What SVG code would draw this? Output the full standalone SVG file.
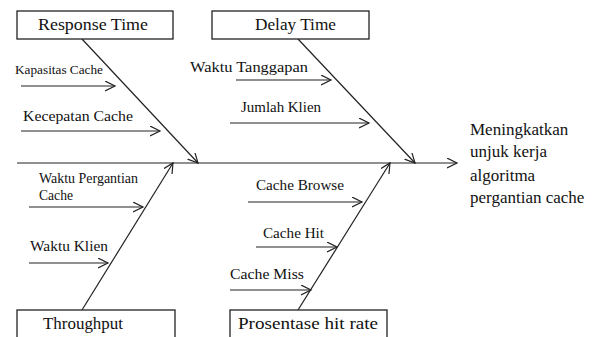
<svg xmlns="http://www.w3.org/2000/svg" width="598" height="337" viewBox="0 0 598 337">
<defs>
<marker id="ah" markerWidth="12" markerHeight="12" refX="10" refY="5" orient="auto" markerUnits="userSpaceOnUse">
<polyline points="0,0 10,5 0,10" fill="none" stroke="#222" stroke-width="1.2"/>
</marker>
</defs>
<style>
text{font-family:'Liberation Serif','Times New Roman',serif;fill:#111}
.box{fill:#fff;stroke:#222;stroke-width:1.3}
.ln{stroke:#222;stroke-width:1.2;fill:none}
.t{font-size:17.5px}
.s{font-size:14px}
.r{font-size:17px}
</style>
<rect width="598" height="337" fill="#fff"/>
<g id="connectors">
<line class="ln" x1="17" y1="163" x2="457" y2="163" marker-end="url(#ah)"/>
<line class="ln" x1="82" y1="39" x2="198" y2="163" marker-end="url(#ah)"/>
<line class="ln" x1="298" y1="39" x2="415" y2="163" marker-end="url(#ah)"/>
<line class="ln" x1="82" y1="310" x2="173" y2="163" marker-end="url(#ah)"/>
<line class="ln" x1="298" y1="310" x2="390" y2="163" marker-end="url(#ah)"/>
<line class="ln" x1="21" y1="86" x2="115" y2="86" marker-end="url(#ah)"/>
<line class="ln" x1="21" y1="131" x2="160" y2="131" marker-end="url(#ah)"/>
<line class="ln" x1="236" y1="80" x2="331" y2="80" marker-end="url(#ah)"/>
<line class="ln" x1="230" y1="123" x2="369" y2="123" marker-end="url(#ah)"/>
<line class="ln" x1="29" y1="207" x2="143" y2="207" marker-end="url(#ah)"/>
<line class="ln" x1="29" y1="263" x2="108" y2="263" marker-end="url(#ah)"/>
<line class="ln" x1="248" y1="202" x2="362" y2="202" marker-end="url(#ah)"/>
<line class="ln" x1="256" y1="247" x2="337" y2="247" marker-end="url(#ah)"/>
<line class="ln" x1="230" y1="290" x2="311" y2="290" marker-end="url(#ah)"/>
</g>
<g id="response-time">
<rect class="box" x="17" y="11" width="156" height="28"/>
<text class="t" x="38" y="30" textLength="110" lengthAdjust="spacingAndGlyphs">Response Time</text>
</g>
<g id="delay-time">
<rect class="box" x="212" y="11" width="157" height="28"/>
<text class="t" x="255" y="30" textLength="81" lengthAdjust="spacingAndGlyphs">Delay Time</text>
</g>
<g id="throughput">
<rect class="box" x="17" y="310" width="158" height="40"/>
<text class="t" x="43" y="329" textLength="80" lengthAdjust="spacingAndGlyphs">Throughput</text>
</g>
<g id="prosentase">
<rect class="box" x="230" y="310" width="157" height="40"/>
<text class="t" x="238" y="329" textLength="140" lengthAdjust="spacingAndGlyphs">Prosentase hit rate</text>
</g>
<g id="kapasitas-cache"><text x="15" y="74" style="font-size:12px" textLength="88" lengthAdjust="spacingAndGlyphs">Kapasitas Cache</text></g>
<g id="kecepatan-cache"><text class="s" x="23" y="121" textLength="110" lengthAdjust="spacingAndGlyphs">Kecepatan Cache</text></g>
<g id="waktu-tanggapan"><text class="s" x="190" y="72" style="font-size:15px" textLength="118" lengthAdjust="spacingAndGlyphs">Waktu Tanggapan</text></g>
<g id="jumlah-klien"><text class="s" x="241" y="112" textLength="80" lengthAdjust="spacingAndGlyphs">Jumlah Klien</text></g>
<g id="waktu-pergantian"><text class="s" x="39" y="183" textLength="99" lengthAdjust="spacingAndGlyphs">Waktu Pergantian</text><text class="s" x="39" y="200" textLength="34" lengthAdjust="spacingAndGlyphs">Cache</text></g>
<g id="waktu-klien"><text class="s" x="30" y="251" textLength="78" lengthAdjust="spacingAndGlyphs">Waktu Klien</text></g>
<g id="cache-browse"><text class="s" x="256" y="190" textLength="88" lengthAdjust="spacingAndGlyphs">Cache Browse</text></g>
<g id="cache-hit"><text class="s" x="263" y="238" textLength="61" lengthAdjust="spacingAndGlyphs">Cache Hit</text></g>
<g id="cache-miss"><text class="s" x="230" y="279" textLength="74" lengthAdjust="spacingAndGlyphs">Cache Miss</text></g>
<g id="effect">
<text class="r" x="470" y="135">Meningkatkan</text>
<text class="r" x="470" y="157">unjuk kerja</text>
<text class="r" x="470" y="181">algoritma</text>
<text class="r" x="470" y="203">pergantian cache</text>
</g>
</svg>
